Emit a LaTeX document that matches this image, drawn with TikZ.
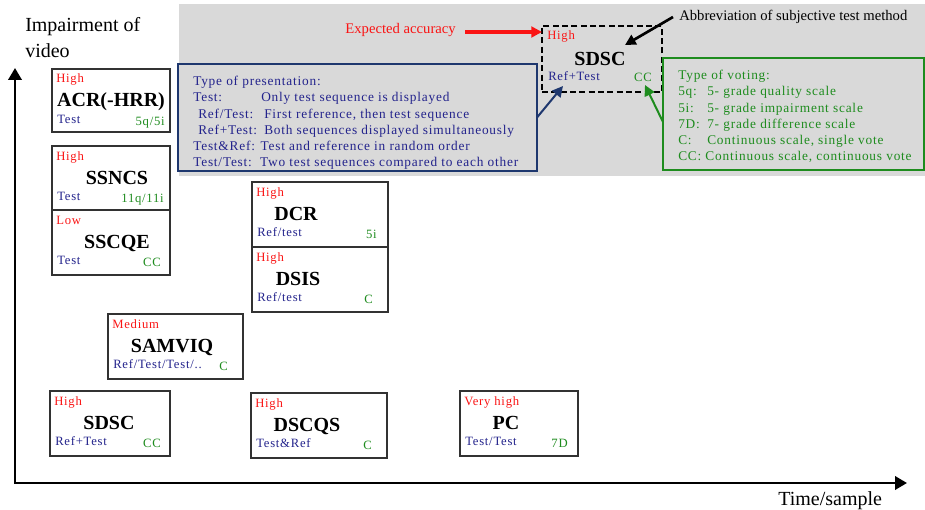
\documentclass[tikz,border=0pt]{standalone}
\usepackage{fontspec}
\setmainfont{Liberation Serif}
\newfontfamily\keyfont[LetterSpace=6]{Liberation Serif}
\usetikzlibrary{arrows.meta}

\definecolor{accred}{RGB}{250,20,20}
\definecolor{presblue}{RGB}{35,35,140}
\definecolor{votegreen}{RGB}{30,140,30}
\definecolor{keygray}{RGB}{217,217,217}
\definecolor{boxline}{RGB}{50,50,50}
\definecolor{presline}{RGB}{30,55,110}

\begin{document}
\begin{tikzpicture}[x=0.75pt, y=-0.75pt,
        methodbox/.style={
            % The shape:
            rectangle,
            % The border
            draw=boxline,
            line width=1.1pt,
            outer sep=0pt,
            inner sep=0pt,
            % The filling
            fill=white
        },
        acc/.style={text=accred, font=\keyfont\fontsize{9.5}{11}\selectfont, inner sep=0pt, anchor=base west},
        abbr/.style={font=\bfseries\fontsize{15}{18}\selectfont, inner sep=0pt, anchor=base},
        pres/.style={text=presblue, font=\keyfont\fontsize{9.5}{11}\selectfont, inner sep=0pt, anchor=base west},
        vote/.style={text=votegreen, font=\keyfont\fontsize{9.5}{11}\selectfont, inner sep=0pt, anchor=base east},
        keynote/.style={font=\keyfont\fontsize{10}{12.2}\selectfont, inner sep=0pt, align=left, anchor=north west},
        axislabel/.style={font=\fontsize{15}{19.5}\selectfont, inner sep=0pt},
        pointer/.style={line width=2pt, -{Triangle[length=8pt,width=8pt]}}
    ]

    \useasboundingbox (0,0) rectangle (925,510);

    % Key area
    \fill[keygray] (179,4) rectangle (925,176);

    % Axes
    \coordinate (origin) at (15,483);
    \coordinate (ytop) at (15,68);
    \coordinate (xend) at (907,483);
    \draw[line width=2pt, {Triangle[length=9pt,width=10pt]}-{Triangle[length=9pt,width=10pt]}] (ytop) -- (origin) -- (xend);
    \node[axislabel, align=left, anchor=north west] (ylabel) at (25,17) {Impairment of\\video};
    \node[axislabel, anchor=base west] (xlabel) at (778,505) {Time/sample};

    % Methods
    \foreach \nm/\lx/\ty/\rx/\by/\acc/\abbr/\cx/\pres/\vote/\vx in {
        acr/52/69/170/132/High/ACR(-HRR)/111/Test/{5q/5i}/165,
        ssncs/52/146/170/210/High/SSNCS/117/Test/{11q/11i}/164,
        sscqe/52/210/170/275/Low/SSCQE/117/Test/CC/161,
        dcr/252/182/388/247/High/DCR/296/{Ref/test}/5i/377,
        dsis/252/247/388/312/High/DSIS/298/{Ref/test}/C/373,
        samviq/108/314/243/379/Medium/SAMVIQ/172/{Ref/Test/Test/..}/C/228,
        sdsc/50/391/170/456/High/SDSC/109/Ref+Test/CC/161,
        dscqs/251/393/387/458/High/DSCQS/307/Test\&Ref/C/372,
        pc/460/391/578/456/Very high/PC/506/{Test/Test}/7D/568}
    {
        \node[methodbox, minimum width={(\rx-\lx)*0.75pt}, minimum height={(\by-\ty)*0.75pt}] (\nm) at ({(\lx+\rx)/2},{(\ty+\by)/2}) {};
        \node[acc] (\nm-acc) at ([shift={(4,14)}]\nm.north west) {\acc};
        \node[abbr] (\nm-abbr) at (\cx,\ty+38) {\abbr};
        \node[pres] (\nm-pres) at ([shift={(5,54)}]\nm.north west) {\pres};
        \node[vote] (\nm-vote) at (\vx,\ty+56) {\vote};
    }

    % Key: sample entry
    \node[methodbox, fill=none, draw=black, line width=2pt, dash pattern=on 4.5pt off 2.5pt,
        minimum width={120*0.75pt}, minimum height={66*0.75pt}] (keybox) at (602,59) {};
    \node[acc] (keybox-acc) at ([shift={(5,14)}]keybox.north west) {High};
    \node[abbr] (keybox-abbr) at (600,65) {SDSC};
    \node[pres] (keybox-pres) at ([shift={(6,55)}]keybox.north west) {Ref+Test};
    \node[vote] (keybox-vote) at (652,82) {CC};

    % Key: presentation and voting
    \node[methodbox, draw=presline, line width=1pt, fill=keygray,
        minimum width={(537-178)*0.75pt}, minimum height={(171-64)*0.75pt}] (presbox) at ({(178+537)/2},{(64+171)/2}) {};
    \node[keynote, text=presblue] (preslist) at ([shift={(15,12)}]presbox.north west) {Type of presentation:\\
        \makebox[51pt][l]{Test:}Only test sequence is displayed\\
        \hspace*{3.75pt}\makebox[49.5pt][l]{Ref/Test:}First reference, then test sequence\\
        \hspace*{3.75pt}\makebox[49.5pt][l]{Ref+Test:}Both sequences displayed simultaneously\\
        Test\&Ref: Test and reference in random order\\
        Test/Test:\ \ Two test sequences compared to each other};

    \node[methodbox, draw=votegreen, line width=1pt, fill=keygray,
        minimum width={(924-663)*0.75pt}, minimum height={(170-58)*0.75pt}] (votebox) at ({(663+924)/2},{(58+170)/2}) {};
    \node[keynote, text=votegreen] (votelist) at ([shift={(15,12)}]votebox.north west) {Type of voting:\\
        \makebox[21.75pt][l]{5q:}5- grade quality scale\\
        \makebox[21.75pt][l]{5i:}5- grade impairment scale\\
        \makebox[21.75pt][l]{7D:}7- grade difference scale\\
        \makebox[21.75pt][l]{C:}Continuous scale, single vote\\
        CC: Continuous scale, continuous vote};

    % Key: pointers
    \node[font=\fontsize{11}{13}\selectfont, text=accred, inner sep=0pt, anchor=base east] (expacc) at (456,34) {Expected accuracy};
    \node[font=\fontsize{11}{13}\selectfont, inner sep=0pt, anchor=base west] (abbrevnote) at (679,21) {Abbreviation of subjective test method};

    \coordinate (accstart) at ([shift={(9,-2)}]expacc.base east);
    \draw[pointer, accred, line width=2.3pt] (accstart) -- (accstart -| keybox.west);
    \draw[pointer] ([shift={(-6,-4)}]abbrevnote.base west) -- ([shift={(25,-20)}]keybox-abbr.base);
    \draw[pointer, line width=1.5pt, presline] (presbox.east) -- ([shift={(15,5)}]keybox-pres.base west);
    \draw[pointer, line width=1.5pt, votegreen] ([shift={(0,8)}]votebox.west) -- ([shift={(-7,3)}]keybox-vote.base east);

\end{tikzpicture}
\end{document}
